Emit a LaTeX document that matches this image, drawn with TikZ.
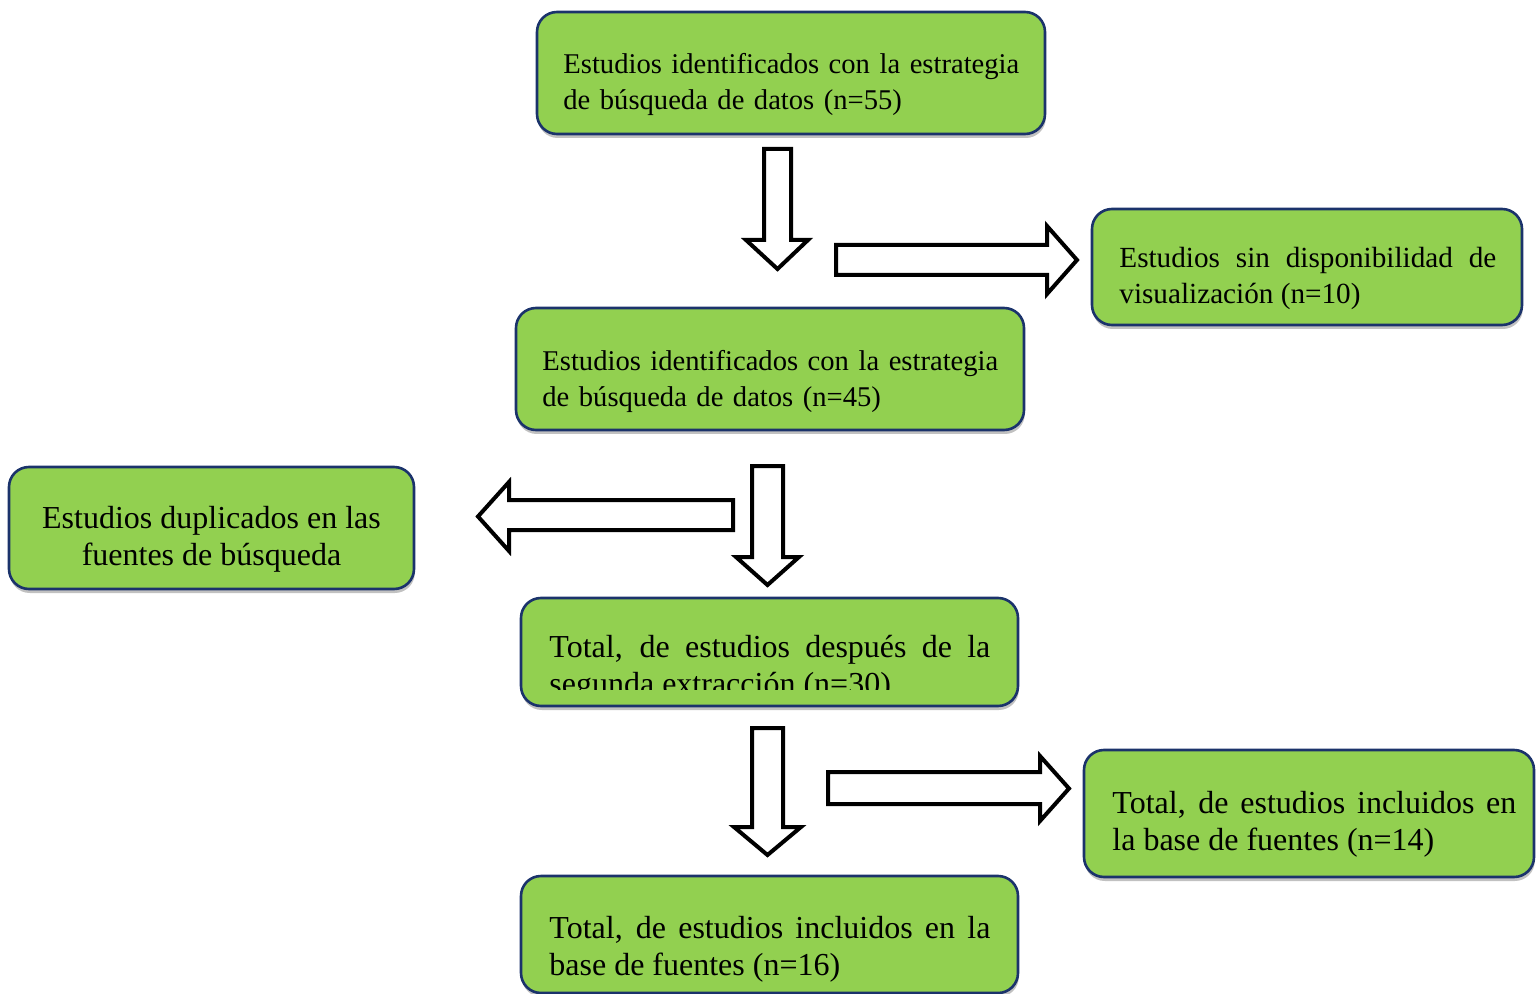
\documentclass[tikz,border=0pt]{standalone}
\usepackage{fontspec}
\setmainfont{Liberation Serif}
\usetikzlibrary{positioning,shadows}
\definecolor{verdecaja}{HTML}{92D050}
\definecolor{bordecaja}{HTML}{1B336B}
\tolerance=9999 \hyphenpenalty=10000 \hbadness=10000

\tikzset{
	caja/.style={draw=bordecaja, line width=1.3pt, fill=verdecaja, rounded corners=10pt,
		drop shadow={shadow xshift=0.4pt, shadow yshift=-2pt, opacity=.35, fill=black!70}},
	texto/.style={inner sep=0pt, anchor=base west, font=\fontsize{14.6}{18}\selectfont},
	textop/.style={texto, font=\fontsize{14.3}{18}\selectfont},
	textog/.style={texto, font=\fontsize{16}{18.5}\selectfont},
	flecha/.style={draw=black, line width=2pt, fill=white, line join=miter},
}

\begin{document}
\begin{tikzpicture}[x=0.5pt, y=-0.5pt]

	% 1 px of the page = 0.5pt, y grows downwards
	\useasboundingbox (0,0) rectangle (1536,994);

	% Boxes
	\node[caja, minimum width=254pt, minimum height=61pt] (c1) at (791,73) {};
	\node[caja, minimum width=215pt, minimum height=58pt] (c2) at (1307,267) {};
	\node[caja, minimum width=254pt, minimum height=61pt] (c3) at (770,369) {};
	\node[caja, minimum width=202.5pt, minimum height=61pt] (c4) at (211.5,528) {};
	\node[caja, minimum width=248.5pt, minimum height=54pt] (c5) at (769.5,652) {};
	\node[caja, minimum width=225pt, minimum height=63.5pt] (c6) at (1309,813.5) {};
	\node[caja, minimum width=248.5pt, minimum height=58.5pt] (c7) at (769.5,934.5) {};

	% Texts
	\node[textop, text width=236pt, align=left] (t1) at (563,74)
		{Estudios identificados con la estrategia\\de búsqueda de datos (n=55)};
	\node[texto, text width=188.5pt, align=justify] (t2) at (1119,268)
		{Estudios sin disponibilidad de visualización (n=10)};
	\node[textop, text width=236pt, align=left] (t3) at (542,371)
		{Estudios identificados con la estrategia\\de búsqueda de datos (n=45)};
	% base = last line here
	\node[textog, anchor=base, align=center] (t4) at (211.5,565)
		{Estudios duplicados en las\\fuentes de búsqueda};
	\begin{scope}
		\clip (521,600) rectangle (1018,689);
		\node[textog, text width=220.5pt, align=justify] (t5) at (549,657)
			{Total, de estudios después de la segunda extracción (n=30)};
	\end{scope}
	\node[textog, text width=202pt, align=justify] (t6) at (1112,813)
		{Total, de estudios incluidos en la base de fuentes (n=14)};
	\node[textog, text width=220.5pt, align=justify] (t7) at (549,938)
		{Total, de estudios incluidos en la base de fuentes (n=16)};

	% Block arrows
	\draw[flecha] (764,149) -- (791,149) -- (791,240) -- (808,240) -- (777.5,269)
		-- (746,240) -- (764,240) -- cycle;
	\draw[flecha] (836,245) -- (1047,245) -- (1047,226) -- (1077,260) -- (1047,294)
		-- (1047,275) -- (836,275) -- cycle;
	\draw[flecha] (733,500) -- (509,500) -- (509,482) -- (478,516.5) -- (509,551)
		-- (509,530) -- (733,530) -- cycle;
	\draw[flecha] (752,466) -- (783,466) -- (783,557) -- (799,557) -- (767.5,585)
		-- (736,557) -- (752,557) -- cycle;
	\draw[flecha] (752,728) -- (783,728) -- (783,827) -- (801,827) -- (767.5,855)
		-- (734,827) -- (752,827) -- cycle;
	\draw[flecha] (828,772) -- (1040,772) -- (1040,756) -- (1069,788.5) -- (1040,821)
		-- (1040,804) -- (828,804) -- cycle;

\end{tikzpicture}
\end{document}
